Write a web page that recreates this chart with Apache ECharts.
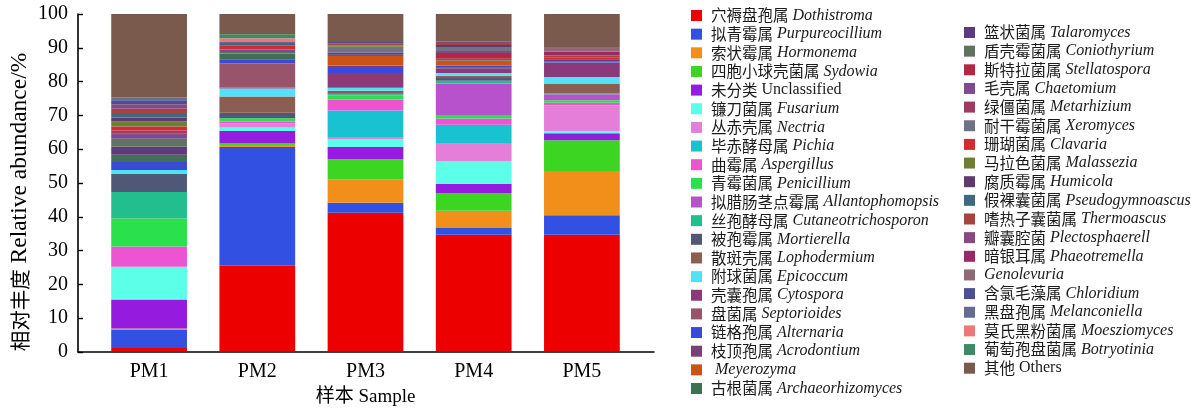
<!DOCTYPE html>
<html><head><meta charset="utf-8">
<script src="https://cdn.jsdelivr.net/npm/echarts@6/dist/echarts.min.js"></script>
<style>html,body{margin:0;padding:0;background:#fff}#c{width:1203px;height:412px}</style>
</head><body><div id="c"></div>
<script>
const categories = ['PM1', 'PM2', 'PM3', 'PM4', 'PM5'];

const cnNames = ['穴褥盘孢属','拟青霉属','索状霉属','四胞小球壳菌属','未分类','镰刀菌属','丛赤壳属','毕赤酵母属','曲霉属','青霉菌属','拟腊肠茎点霉属','丝孢酵母属','被孢霉属','散斑壳属','附球菌属','壳囊孢属','盘菌属','链格孢属','枝顶孢属','','古根菌属',
  '篮状菌属','盾壳霉菌属','斯特拉菌属','毛壳属','绿僵菌属','耐干霉菌属','珊瑚菌属','马拉色菌属','腐质霉属','假裸囊菌属','嗜热子囊菌属','瓣囊腔菌','暗银耳属','','含氯毛藻属','黑盘孢属','莫氏黑粉菌属','葡萄孢盘菌属','其他'];
const latinNames = ['Dothistroma','Purpureocillium','Hormonema','Sydowia','Unclassified','Fusarium','Nectria','Pichia','Aspergillus','Penicillium','Allantophomopsis','Cutaneotrichosporon','Mortierella','Lophodermium','Epicoccum','Cytospora','Septorioides','Alternaria','Acrodontium','Meyerozyma','Archaeorhizomyces',
  'Talaromyces','Coniothyrium','Stellatospora','Chaetomium','Metarhizium','Xeromyces','Clavaria','Malassezia','Humicola','Pseudogymnoascus','Thermoascus','Plectosphaerell','Phaeotremella','Genolevuria','Chloridium','Melanconiella','Moesziomyces','Botryotinia','Others'];
const uprightLatin = ['Unclassified', 'Others'];
const colors = ['#EC0000','#3250E2','#F28E1A','#3CD622','#951CDE','#5CFFE8','#E47ED8','#18C2D0','#EC54D2','#2AE04C','#B852CC','#22BE8E','#505878','#8A5E50','#50E2F6','#8A3A78','#98546A','#3C48D6','#7A4078','#CC5216','#3E7052',
  '#5C3A80','#627262','#B02842','#7E4A92','#A03A62','#727286','#D22C32','#6E7E32','#5E3A6E','#3E6A80','#A8423A','#864A80','#9A2866','#906A72','#4C5090','#646C92','#EE7878','#3E8A64','#7A5A4C'];

// values per genus, PM1..PM5 (%)
const Dothistroma         = [0.9, 25.3, 41.0, 34.5, 34.5];
const Purpureocillium     = [5.5, 35.2, 3.0, 2.0, 5.8];
const Hormonema           = [0.3, 0.6, 7.0, 5.1, 13.1];
const Sydowia             = [0, 0.6, 5.9, 5.3, 9.1];
const Unclassified        = [8.6, 3.6, 3.6, 2.7, 2.1];
const Fusarium            = [9.7, 1.0, 2.3, 6.7, 0.6];
const Nectria             = [0, 1.2, 0.7, 5.4, 7.7];
const Pichia              = [0, 0, 7.9, 5.4, 0];
const Aspergillus         = [6.0, 0.6, 3.2, 1.9, 0.8];
const Penicillium         = [8.3, 1.0, 1.2, 1.0, 0.7];
const Allantophomopsis    = [0, 0, 0, 9.4, 1.8];
const Cutaneotrichosporon = [7.9, 0, 0.4, 0.8, 0.3];
const Mortierella         = [5.3, 1.6, 0.3, 0.8, 0];
const Lophodermium        = [0, 4.8, 0.7, 0.7, 2.7];
const Epicoccum           = [1.2, 2.4, 0.9, 0.8, 2.1];
const Cytospora           = [0, 0.3, 4.4, 1.4, 4.3];
const Septorioides        = [0, 7.1, 0, 0.4, 0];
const Alternaria          = [2.4, 1.3, 1.5, 0.4, 0.3];
const Acrodontium         = [0, 0, 0.7, 0, 0];
const Meyerozyma          = [0, 0, 2.8, 1.5, 0];
const Archaeorhizomyces   = [2.1, 1.7, 0.4, 0.5, 0];
const Talaromyces         = [2.4, 0, 0.7, 0, 0.7];
const Coniothyrium        = [2.4, 0.4, 0, 0, 0];
const Stellatospora       = [0, 0, 0, 1.7, 0];
const Chaetomium          = [1.5, 0.8, 0, 0.6, 0];
const Metarhizium         = [0.9, 0, 0, 0, 0];
const Xeromyces           = [0, 0, 1.7, 1.2, 0];
const Clavaria            = [1.2, 1.2, 0, 0, 0.6];
const Malassezia          = [1.5, 0, 0.4, 0, 0];
const Humicola            = [1.2, 0, 0, 0.6, 0];
const Pseudogymnoascus    = [1.3, 0.7, 0, 0, 0];
const Thermoascus         = [1.3, 0, 0.6, 0.6, 0.5];
const Plectosphaerell     = [1.3, 0, 0, 0.5, 0];
const Phaeotremella       = [0, 0, 0, 0, 1.2];
const Genolevuria         = [0, 0, 0, 0, 1.3];
const Chloridium          = [1.2, 0, 0.4, 0, 0];
const Melanconiella       = [0.8, 0.3, 0, 0, 0];
const Moesziomyces        = [0, 1.1, 0, 0, 0];
const Botryotinia         = [0, 1.2, 0, 0, 0];
const Others              = [24.8, 6.0, 8.3, 8.1, 9.8];

const seriesValues = [Dothistroma, Purpureocillium, Hormonema, Sydowia, Unclassified, Fusarium, Nectria, Pichia, Aspergillus, Penicillium, Allantophomopsis, Cutaneotrichosporon, Mortierella, Lophodermium, Epicoccum, Cytospora, Septorioides, Alternaria, Acrodontium, Meyerozyma, Archaeorhizomyces,
  Talaromyces, Coniothyrium, Stellatospora, Chaetomium, Metarhizium, Xeromyces, Clavaria, Malassezia, Humicola, Pseudogymnoascus, Thermoascus, Plectosphaerell, Phaeotremella, Genolevuria, Chloridium, Melanconiella, Moesziomyces, Botryotinia, Others];

const SERIF = "'Liberation Serif', 'Times New Roman', serif";
const CJK = "'Noto Sans CJK SC', sans-serif";
const MIXED = "'Liberation Serif', 'Noto Sans CJK SC', serif";

function legendFormatter(name) {
  const i = latinNames.indexOf(name);
  const cn = cnNames[i];
  const upright = uprightLatin.indexOf(name) >= 0;
  let s = '';
  if (cn) s += '{cn|' + cn + '}';
  if (name === 'Meyerozyma') s += '{it| ' + name + '}';
  else if (!cn) s += '{it|' + name + '}';
  else s += '{rm| }' + (upright ? '{rm|' + name + '}' : '{it|' + name + '}');
  return s;
}
const legendRich = {
  cn: { fontFamily: CJK, fontSize: 15.5, color: '#1a1a1a', lineHeight: 16 },
  it: { fontFamily: SERIF, fontStyle: 'italic', fontSize: 16, color: '#1a1a1a', lineHeight: 16 },
  rm: { fontFamily: SERIF, fontSize: 16, color: '#1a1a1a', lineHeight: 16 }
};
function makeLegend(names, left, top) {
  return {
    orient: 'vertical', left: left, top: top, padding: 0,
    itemWidth: 11, itemHeight: 11, itemGap: 2.65, icon: 'rect',
    data: names, formatter: legendFormatter,
    textStyle: { rich: legendRich, padding: [0, 0, 0, 4], lineHeight: 16 }
  };
}

const chart = echarts.init(document.getElementById('c'), null, { renderer: 'canvas' });
chart.setOption({
  animation: false,
  backgroundColor: '#fff',
  legend: [
    makeLegend(latinNames.slice(0, 21), 691, 7.5),
    makeLegend(latinNames.slice(21), 964, 24.5)
  ],
  grid: [
    { left: 78, top: 14, width: 576, height: 338 },
    { left: 95, top: 14, width: 541, height: 338 }
  ],
  xAxis: [
    { gridIndex: 0, type: 'value', min: 0, max: 1,
      axisLine: { show: true, lineStyle: { color: '#000', width: 1.6 } },
      axisTick: { show: false }, axisLabel: { show: false }, splitLine: { show: false } },
    { gridIndex: 1, type: 'category', data: categories,
      axisLine: { show: false }, axisTick: { show: false },
      axisLabel: { fontFamily: SERIF, fontSize: 20, color: '#000', margin: 11 },
      name: '样本 Sample', nameLocation: 'middle', nameGap: 37,
      nameTextStyle: { fontFamily: MIXED, fontSize: 19, color: '#000' } }
  ],
  yAxis: [
    { gridIndex: 0, type: 'value', min: 0, max: 100, interval: 10,
      axisLine: { show: true, lineStyle: { color: '#000', width: 1.6 } },
      axisTick: { show: true, inside: true, length: 5, lineStyle: { color: '#000', width: 1.4 } },
      axisLabel: { fontFamily: SERIF, fontSize: 20, color: '#000', margin: 10 },
      splitLine: { show: false },
      name: '{cn|相对丰度}{rm| Relative abundance/%}', nameLocation: 'middle', nameGap: 46, nameRotate: 90,
      nameTextStyle: { padding: [0, 38, 0, 0], rich: {
        cn: { fontFamily: CJK, fontSize: 20.5, color: '#000' },
        rm: { fontFamily: SERIF, fontSize: 23.5, color: '#000' }
      } } },
    { gridIndex: 1, type: 'value', min: 0, max: 100, show: false }
  ],
  series: latinNames.map((n, i) => ({
    name: n, type: 'bar', stack: 'total', xAxisIndex: 1, yAxisIndex: 1,
    barWidth: '70%', data: seriesValues[i],
    itemStyle: { color: colors[i] },
    emphasis: { disabled: true }, silent: true
  }))
});
</script>
</body></html>
